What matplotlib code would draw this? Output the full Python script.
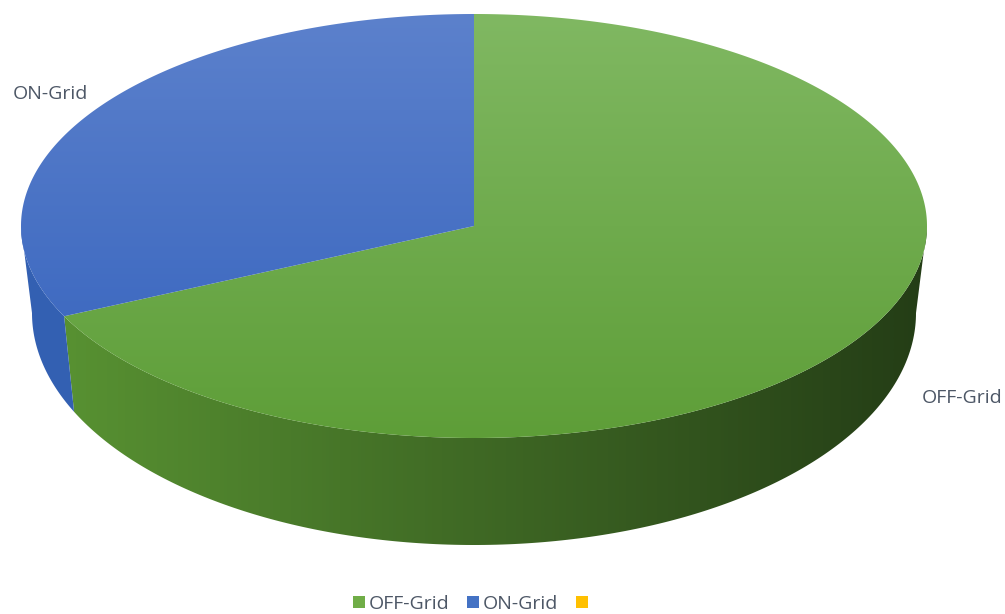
import numpy as np
import matplotlib.pyplot as plt
from matplotlib.patches import Polygon, Patch
from matplotlib.colors import LinearSegmentedColormap

# share of each connection type
labels = ['OFF-Grid', 'ON-Grid', '']
values = [68, 32, 0]

# (top light, top dark) and (side left, side right) colours per slice
top_colors = [('#80b862', '#5e9e38'), ('#5c81cc', '#3462bd'), ('#ffc000', '#ffc000')]
side_colors = [('#5a9533', '#243d16'), ('#3461b3', '#2b56a3'), ('#c79500', '#c79500')]
legend_colors = ['#70ad47', '#4472c4', '#ffc000']

# label anchor points (pixels)
label_pos = [(962, 398), (50, 94), None]

W, H = 1005, 614
cx, cy = 474, 226      # centre of the top face
a, b = 453, 212        # radii of the top ellipse
cy2 = 313              # centre of the bottom rim (seen in perspective)
a2, b2 = 442, 232      # radii of the bottom rim

fig = plt.figure(figsize=(W / 100, H / 100), dpi=100)
ax = fig.add_axes([0, 0, 1, 1])
ax.set_xlim(0, W)
ax.set_ylim(H, 0)
ax.axis('off')


def ell(t, x0, y0, rx, ry):
    t = np.radians(t)
    return np.column_stack([x0 + rx * np.cos(t), y0 - ry * np.sin(t)])


def fill_gradient(poly, c0, c1, vertical):
    cmap = LinearSegmentedColormap.from_list('g', [c0, c1])
    if vertical:
        grad = np.linspace(0, 1, 256).reshape(-1, 1)
        ext = (0, W, cy + b, cy - b)
    else:
        grad = np.linspace(0, 1, 256).reshape(1, -1)
        ext = (cx - a, cx + a, H, 0)
    patch = Polygon(poly, closed=True, facecolor='none', edgecolor='none')
    ax.add_patch(patch)
    im = ax.imshow(grad, cmap=cmap, extent=ext, aspect='auto',
                   interpolation='bicubic', zorder=1)
    im.set_clip_path(patch)


total = sum(values)
start = 90.0
slices = []
for v in values:
    end = start - 360.0 * v / total
    slices.append((end, start))
    start = end

# side walls (front half only)
for (t0, t1), (sl, sr) in zip(slices, side_colors):
    lo, hi = max(t0, -180), min(t1, 0)
    if hi <= lo:
        continue
    ts = np.linspace(lo, hi, 200)
    poly = np.vstack([ell(ts, cx, cy, a, b),
                      ell(ts[::-1], cx, cy2, a2, b2)])
    fill_gradient(poly, sl, sr, vertical=False)

# top faces
for (t0, t1), (ct, cb) in zip(slices, top_colors):
    if t1 - t0 <= 0:
        continue
    ts = np.linspace(t0, t1, 400)
    poly = np.vstack([[cx, cy], ell(ts, cx, cy, a, b)])
    fill_gradient(poly, ct, cb, vertical=True)

ax.set_xlim(0, W)
ax.set_ylim(H, 0)

for lab, pos in zip(labels, label_pos):
    if pos is None:
        continue
    ax.text(pos[0], pos[1], lab, ha='center', va='center', fontsize=14,
            color='#4d5766', family='Open Sans')

handles = [Patch(facecolor=c, edgecolor='none') for c in legend_colors]
fig.legend(handles, labels, loc='center', bbox_to_anchor=(0.47, 1 - 604 / H),
           ncol=3, frameon=False, handlelength=0.62, handleheight=0.62,
           handletextpad=0.2, columnspacing=0.9,
           prop={'family': 'Open Sans', 'size': 14}, labelcolor='#4d5766')

fig.savefig('out.png', dpi=100)
